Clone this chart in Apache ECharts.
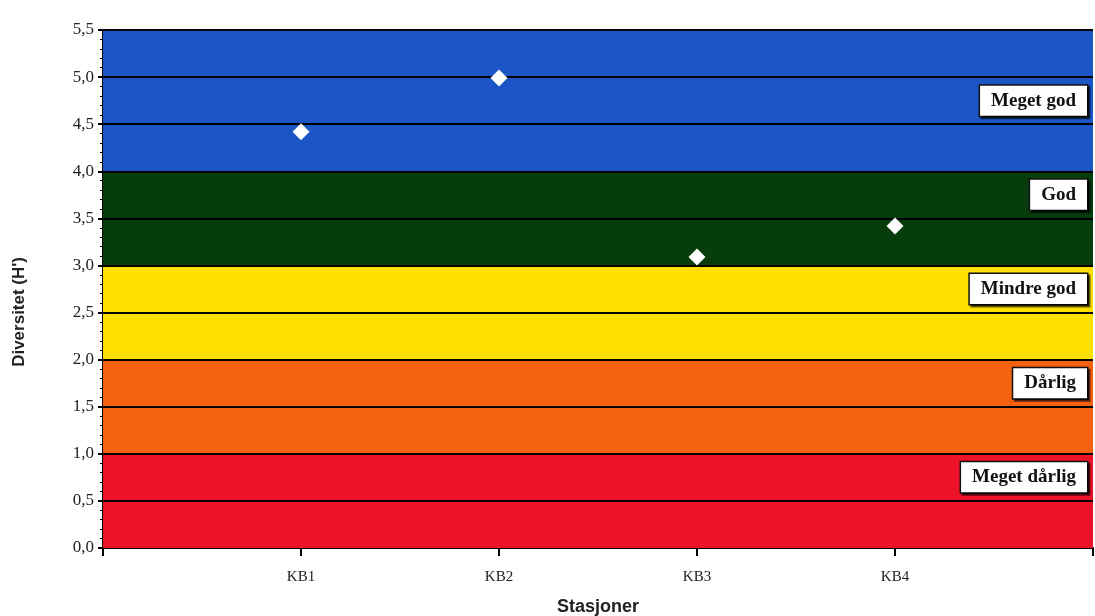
<!DOCTYPE html>
<html><head><meta charset="utf-8">
<script src="https://cdn.jsdelivr.net/npm/echarts@6/dist/echarts.min.js"></script>
<style>html,body{margin:0;padding:0;background:#fff}#c{width:1095px;height:616px}</style>
</head><body><div id="c"></div>
<script>
const categories = ['KB1', 'KB2', 'KB3', 'KB4'];
const diversity = [4.42, 4.99, 3.09, 3.42];
const bandNames = ['Meget god', 'God', 'Mindre god', 'Dårlig', 'Meget dårlig'];
const bandFrom = [4, 3, 2, 1, 0];
const bandTo = [5.5, 4, 3, 2, 1];
const bandColors = ['#1b55c6', '#073c0c', '#fde000', '#f4620f', '#ec1228'];
const labelY = [4.75, 3.75, 2.75, 1.75, 0.75];

const chart = echarts.init(document.getElementById('c'));
const serif = 'Liberation Serif';
chart.setOption({
  animation: false,
  backgroundColor: '#fff',
  grid: { left: 103, right: 2, top: 30, bottom: 68, containLabel: false, outerBoundsMode: 'none' },
  graphic: [{
    type: 'text', left: 11, top: 257, rotation: Math.PI / 2,
    style: { text: "Diversitet (H')", fontFamily: 'Liberation Sans', fontWeight: 'bold', fontSize: 17, fill: '#222' }
  }],
  xAxis: {
    type: 'value', min: 0, max: 5, interval: 1,
    name: 'Stasjoner', nameLocation: 'middle', nameGap: 50,
    nameTextStyle: { fontFamily: 'Liberation Sans', fontWeight: 'bold', fontSize: 18, color: '#222' },
    axisLine: { show: true, lineStyle: { color: '#000', width: 2 } },
    axisTick: { show: true, length: 8, lineStyle: { color: '#000', width: 2 } },
    splitLine: { show: false },
    axisLabel: { margin: 22, fontFamily: serif, fontSize: 15, color: '#222',
      formatter: v => (v >= 1 && v <= categories.length) ? categories[v - 1] : '' }
  },
  yAxis: {
    type: 'value', min: 0, max: 5.5, interval: 0.5,
    axisLine: { show: true, lineStyle: { color: '#000', width: 2 } },
    axisTick: { show: true, length: 5, lineStyle: { color: '#000', width: 2 } },
    minorTick: { show: true, splitNumber: 5, length: 3, lineStyle: { color: '#000', width: 1 } },
    splitLine: { show: false },
    axisLabel: { margin: 9, fontFamily: serif, fontSize: 17, color: '#222',
      formatter: v => v.toFixed(1).replace('.', ',') }
  },
  series: [
    {
      type: 'scatter',
      data: diversity.map((v, i) => [i + 1, v]),
      symbol: 'diamond', symbolSize: 17,
      itemStyle: { color: '#fff', opacity: 1 },
      z: 5,
      markArea: {
        silent: true,
        data: bandNames.map((n, i) => [
          { yAxis: bandFrom[i], itemStyle: { color: bandColors[i], opacity: 1 } },
          { yAxis: bandTo[i] }
        ])
      },
      markLine: {
        silent: true, symbol: 'none', label: { show: false },
        lineStyle: { color: '#000', width: 2, type: 'solid' },
        data: [0.5, 1, 1.5, 2, 2.5, 3, 3.5, 4, 4.5, 5, 5.5].map(y => ({ yAxis: y }))
      },
      markPoint: {
        silent: true, symbol: 'circle', symbolSize: 0,
        data: bandNames.map((n, i) => ({
          coord: [5, labelY[i]], value: n,
          label: {
            show: true, position: 'left', distance: 6, formatter: n,
            fontFamily: serif, fontWeight: 'bold', fontSize: 19, color: '#111',
            backgroundColor: '#fff', borderColor: '#111', borderWidth: 1.5,
            padding: [6, 11, 5, 11],
            shadowColor: 'rgba(0,0,0,0.6)', shadowOffsetX: 2, shadowOffsetY: 2
          }
        }))
      }
    }
  ]
});
</script></body></html>
